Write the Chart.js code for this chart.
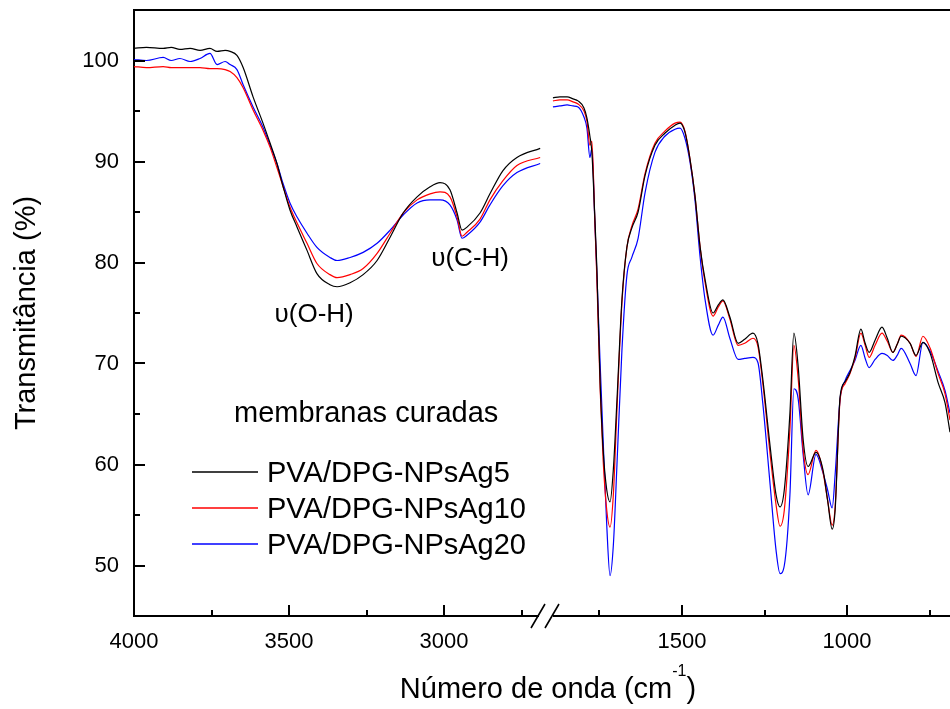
<!DOCTYPE html>
<html>
<head>
<meta charset="utf-8">
<script src="https://cdn.jsdelivr.net/npm/chart.js@4.4.1/dist/chart.umd.min.js"></script>
<style>
  html, body { margin: 0; padding: 0; background: #fff; }
  #wrap { width: 950px; height: 709px; }
</style>
</head>
<body>
<div id="wrap"><canvas id="myChart" width="950" height="709"></canvas></div>
<script>
// wavenumbers (cm-1), left part of the broken axis
const wnLeft = [4000, 3960, 3906, 3880, 3852, 3819, 3787, 3755, 3732, 3706, 3690, 3668, 3648, 3616, 3584, 3561, 3539, 3519, 3497, 3474,
  3442, 3410, 3368, 3345, 3303, 3261, 3216, 3174, 3132, 3087, 3045, 3013, 2981, 2958, 2942, 2926, 2884, 2852, 2810, 2765, 2690];
// right part of the broken axis
const wnRight = [1891, 1870, 1848, 1830, 1815, 1797, 1788, 1779, 1773, 1764, 1758, 1748, 1739, 1728, 1718, 1708, 1697, 1682, 1667, 1652,
  1633, 1612, 1582, 1552, 1521, 1506, 1491, 1476, 1461, 1445, 1430, 1406, 1390, 1376, 1355, 1330, 1310, 1285, 1270, 1255,
  1233, 1215, 1203, 1190, 1173, 1161, 1148, 1133, 1118, 1094, 1073, 1059, 1045, 1036, 1021, 1006, 991, 976, 958, 945,
  933, 915, 894, 878, 861, 848, 836, 809, 791, 770, 748, 724, 703, 688];

// transmittance (%)
const ag5Left = [101.2, 101.3, 101.2, 101.3, 101.1, 101.2, 101.0, 101.2, 100.9, 101.0, 100.9, 100.5, 99.3, 96.4, 93.8, 91.8, 89.8, 87.5, 85.2, 83.5,
  81.2, 78.9, 77.8, 77.6, 78.0, 78.8, 80.2, 82.5, 84.9, 86.5, 87.5, 87.9, 87.2, 84.9, 83.2, 83.5, 84.9, 86.8, 89.1, 90.4, 91.3];
const ag10Left = [99.4, 99.3, 99.4, 99.3, 99.3, 99.3, 99.3, 99.2, 99.2, 99.1, 98.9, 98.3, 97.3, 95.1, 93.1, 91.4, 89.4, 87.5, 85.5, 83.9,
  81.9, 79.9, 78.8, 78.5, 78.8, 79.4, 80.9, 82.9, 84.9, 86.2, 86.8, 87.0, 86.5, 84.5, 82.6, 83.0, 84.3, 86.2, 88.1, 89.6, 90.4];
const ag20Left = [100.1, 100.0, 100.3, 100.0, 100.2, 99.9, 100.2, 100.7, 99.6, 99.9, 99.6, 99.1, 97.6, 95.4, 93.4, 91.6, 89.8, 87.8, 85.9, 84.5,
  82.9, 81.5, 80.5, 80.2, 80.5, 81.0, 81.9, 83.2, 84.7, 85.9, 86.2, 86.2, 85.7, 84.2, 82.4, 82.7, 84.0, 85.7, 87.6, 88.9, 89.8];

const ag5Right = [96.3, 96.4, 96.4, 96.2, 96.0, 95.3, 94.3, 92.5, 90.9, 84.4, 79.5, 68.1, 61.5, 57.5, 56.3, 59.5, 66.4, 76.3, 81.5, 83.4,
  85.0, 88.6, 91.6, 92.8, 93.6, 93.8, 92.9, 90.3, 86.7, 81.5, 78.3, 75.0, 75.8, 76.3, 74.6, 72.0, 72.4, 73.0, 72.0, 68.4,
  61.8, 57.0, 55.8, 57.5, 65.1, 73.0, 69.7, 62.5, 59.8, 61.2, 59.5, 56.5, 53.6, 55.5, 66.7, 68.2, 69.1, 70.7, 73.4, 72.0,
  71.1, 72.3, 73.6, 72.5, 71.1, 71.9, 72.7, 72.0, 70.8, 72.1, 71.0, 68.1, 66.1, 63.2];
const ag10Right = [96.0, 96.1, 96.1, 95.9, 95.7, 95.0, 94.0, 91.6, 92.0, 84.0, 78.5, 67.5, 60.5, 55.5, 53.8, 57.0, 65.5, 76.0, 81.5, 83.6,
  85.3, 88.8, 91.8, 93.0, 93.8, 93.9, 93.0, 90.3, 86.7, 81.5, 78.0, 74.7, 75.6, 76.2, 74.4, 71.8, 72.0, 72.5, 71.7, 68.0,
  61.0, 56.0, 53.9, 55.5, 63.5, 71.8, 68.5, 61.5, 59.0, 61.4, 59.3, 56.5, 54.0, 55.8, 66.4, 68.0, 69.0, 70.5, 73.0, 71.8,
  70.6, 71.8, 73.0, 72.2, 71.1, 71.9, 72.8, 72.0, 70.7, 72.7, 71.5, 69.0, 67.0, 64.4];
const ag20Right = [95.4, 95.5, 95.6, 95.5, 95.4, 94.4, 93.3, 90.4, 91.3, 84.0, 79.0, 70.0, 62.5, 54.0, 49.0, 52.0, 60.0, 71.3, 78.7, 80.5,
  82.4, 86.9, 90.9, 92.5, 93.2, 93.3, 92.3, 90.0, 86.3, 80.5, 76.3, 72.8, 73.8, 74.6, 72.5, 70.4, 70.5, 70.6, 70.1, 66.0,
  58.0, 51.5, 49.2, 50.0, 57.0, 67.5, 66.5, 61.0, 57.0, 61.0, 59.2, 57.5, 55.7, 59.0, 66.5, 68.3, 69.3, 70.3, 71.8, 70.5,
  69.6, 70.4, 71.0, 70.8, 70.3, 70.8, 71.5, 70.0, 68.8, 72.1, 71.2, 69.2, 67.3, 65.1];

const xTicksLeft = [4000, 3750, 3500, 3250, 3000, 2750];
const xTicksRight = [1750, 1500, 1250, 1000, 750];
const yTicks = [50, 55, 60, 65, 70, 75, 80, 85, 90, 95, 100];

const seriesNames = ['PVA/DPG-NPsAg5', 'PVA/DPG-NPsAg10', 'PVA/DPG-NPsAg20'];
const seriesColors = ['#000000', '#ff0000', '#0000ff'];
const legendTitle = 'membranas curadas';
const notes = [
  { text: 'υ(O-H)', x: 3419, y: 74.8 },
  { text: 'υ(C-H)', x: 2916, y: 80.4 }
];

const FONT = "'Liberation Sans', Arial, sans-serif";

function pts(xs, ys) {
  return xs.map((x, i) => ({ x: x, y: ys[i] }));
}

const leftSets = [ag5Left, ag10Left, ag20Left];
const rightSets = [ag5Right, ag10Right, ag20Right];
const datasets = [];
seriesNames.forEach((name, i) => {
  datasets.push({ label: name, data: pts(wnLeft, leftSets[i]), xAxisID: 'x', yAxisID: 'y',
    borderColor: seriesColors[i], borderWidth: 1.2, pointRadius: 0, cubicInterpolationMode: 'monotone' });
  datasets.push({ label: name, data: pts(wnRight, rightSets[i]), xAxisID: 'x2', yAxisID: 'y',
    borderColor: seriesColors[i], borderWidth: 1.2, pointRadius: 0, cubicInterpolationMode: 'monotone' });
});

const tickFont = { family: FONT, size: 22 };

function noPad(s) {
  s.paddingLeft = 0; s.paddingRight = 0; s.paddingTop = 0; s.paddingBottom = 0;
}

// ticks pointing into the plot, the frame top line, the axis break and texts
const decor = {
  id: 'decor',
  afterDraw(chart) {
    const ctx = chart.ctx;
    const a = chart.chartArea;
    const sx = chart.scales.x, sx2 = chart.scales.x2, sy = chart.scales.y;
    ctx.save();
    ctx.strokeStyle = '#000';
    ctx.lineWidth = 2;
    ctx.beginPath();
    ctx.moveTo(a.left - 1, a.top);
    ctx.lineTo(a.right, a.top);
    yTicks.forEach(v => {
      const p = Math.round(sy.getPixelForValue(v));
      ctx.moveTo(a.left, p);
      ctx.lineTo(a.left + (v % 10 === 0 ? 11 : 6), p);
    });
    xTicksLeft.forEach(v => {
      const p = Math.round(sx.getPixelForValue(v));
      ctx.moveTo(p, a.bottom);
      ctx.lineTo(p, a.bottom - (v % 500 === 0 ? 11 : 6));
    });
    xTicksRight.forEach(v => {
      const p = Math.round(sx2.getPixelForValue(v));
      ctx.moveTo(p, a.bottom);
      ctx.lineTo(p, a.bottom - (v % 500 === 0 ? 11 : 6));
    });
    ctx.stroke();

    // axis break
    const bx = sx.right;
    ctx.fillStyle = '#fff';
    ctx.fillRect(bx - 8, a.bottom - 3, 14, 6);
    ctx.beginPath();
    ctx.moveTo(bx - 16, a.bottom + 12); ctx.lineTo(bx - 2, a.bottom - 12);
    ctx.moveTo(bx - 2, a.bottom + 12); ctx.lineTo(bx + 12, a.bottom - 12);
    ctx.lineWidth = 1.6;
    ctx.stroke();

    // annotations
    ctx.fillStyle = '#000';
    ctx.font = '26px ' + FONT;
    ctx.textAlign = 'center';
    ctx.textBaseline = 'middle';
    notes.forEach(n => {
      ctx.fillText(n.text, sx.getPixelForValue(n.x), sy.getPixelForValue(n.y));
    });

    // legend
    ctx.textAlign = 'left';
    ctx.textBaseline = 'alphabetic';
    ctx.font = '29px ' + FONT;
    ctx.fillText(legendTitle, 234, 422);
    seriesNames.forEach((name, i) => {
      const y = 472 + i * 36;
      ctx.strokeStyle = seriesColors[i];
      ctx.lineWidth = 1.3;
      ctx.beginPath();
      ctx.moveTo(192, y);
      ctx.lineTo(258, y);
      ctx.stroke();
      ctx.fillText(name, 267, y + 10);
    });

    // x axis title with superscript
    const main1 = 'Número de onda (cm';
    const sup = '-1';
    const main2 = ')';
    ctx.font = '29px ' + FONT;
    const w1 = ctx.measureText(main1).width;
    const w3 = ctx.measureText(main2).width;
    ctx.font = '16px ' + FONT;
    const w2 = ctx.measureText(sup).width;
    const x0 = 548 - (w1 + w2 + w3) / 2;
    const base = 698;
    ctx.font = '29px ' + FONT;
    ctx.fillText(main1, x0, base);
    ctx.font = '16px ' + FONT;
    ctx.fillText(sup, x0 + w1, base - 22);
    ctx.font = '29px ' + FONT;
    ctx.fillText(main2, x0 + w1 + w2, base);
    ctx.restore();
  }
};

new Chart(document.getElementById('myChart').getContext('2d'), {
  type: 'line',
  data: { datasets: datasets },
  options: {
    responsive: false,
    animation: false,
    events: [],
    layout: { padding: { left: 0, right: 0, top: 10, bottom: 0 } },
    plugins: { legend: { display: false }, tooltip: { enabled: false } },
    scales: {
      x: {
        type: 'linear', position: 'bottom', reverse: true, min: 2668, max: 4000,
        stack: 'wn', stackWeight: 413,
        afterBuildTicks: s => { s.ticks = xTicksLeft.map(v => ({ value: v })); },
        afterFit: s => { s.height = 93; noPad(s); },
        grid: { display: false, drawTicks: false },
        border: { display: true, color: '#000', width: 2 },
        ticks: { autoSkip: false, maxRotation: 0, padding: 13, color: '#000', font: tickFont,
          callback: v => (v % 500 === 0 ? String(v) : '') }
      },
      x2: {
        type: 'linear', position: 'bottom', reverse: true, min: 688, max: 1909,
        stack: 'wn', stackWeight: 403,
        afterBuildTicks: s => { s.ticks = xTicksRight.map(v => ({ value: v })); },
        afterFit: s => { s.height = 93; noPad(s); },
        grid: { display: false, drawTicks: false },
        border: { display: true, color: '#000', width: 2 },
        ticks: { autoSkip: false, maxRotation: 0, padding: 13, color: '#000', font: tickFont,
          callback: v => (v % 500 === 0 ? String(v) : '') }
      },
      y: {
        type: 'linear', position: 'left', min: 45, max: 105,
        afterBuildTicks: s => { s.ticks = yTicks.map(v => ({ value: v })); },
        afterFit: s => { s.width = 134; noPad(s); },
        grid: { display: false, drawTicks: false },
        border: { display: true, color: '#000', width: 2 },
        ticks: { padding: 15, color: '#000', font: tickFont,
          callback: v => (v % 10 === 0 ? String(v) : '') },
        title: { display: true, text: 'Transmitância (%)', color: '#000',
          font: { family: FONT, size: 29 }, padding: { top: 10, bottom: 0 } }
      }
    }
  },
  plugins: [decor]
});
</script>
</body>
</html>
